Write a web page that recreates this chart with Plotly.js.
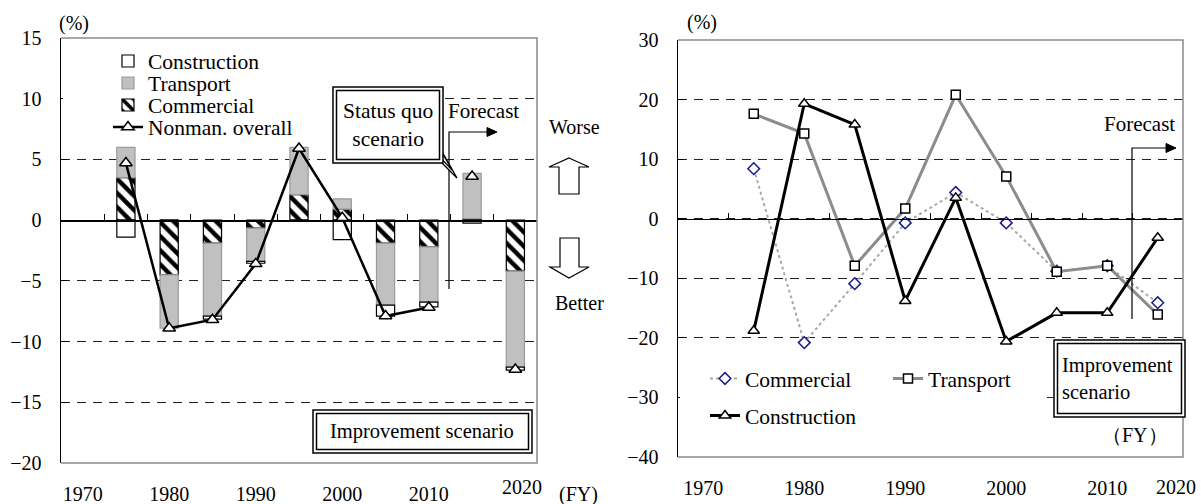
<!DOCTYPE html>
<html><head><meta charset="utf-8">
<script src="https://cdn.plot.ly/plotly-3.0.1.min.js"></script>
<style>body{margin:0;background:#fff}#chart{width:1201px;height:504px}</style>
</head><body><div id="chart"></div>
<script>
// ---------- Left chart data (status quo / improvement, contributions) ----------
const leftCategories = ['1970','1975','1980','1985','1990','1995','2000','2005','2010','2020 SQ','2020'];
const barYears = ['1975','1980','1985','1990','1995','2000','2005','2010','2020 SQ','2020'];
const commercialBars   = [3.5, -4.5, -1.9, -0.65, 2.1, 0.9, -1.9, -2.2, 0.1, -4.2];
const transportBars    = [2.5, -4.4, -6.0, -2.75, 3.9, 0.85, -5.1, -4.55, 3.75, -7.9];
const constructionBars = [-1.4, 0, -0.25, -0.15, -0.1, -1.6, -0.9, -0.4, -0.25, -0.25];
const overallYears  = ['1975','1980','1985','1990','1995','2000','2005','2010'];
const overallValues = [4.7, -8.9, -8.2, -3.6, 5.9, 0.2, -7.9, -7.2];
const forecastYears = ['2020 SQ','2020'];
const overallForecast = [3.6, -12.3];
const leftTickLabels = ['1970','1980','1990','2000','2010'];
const lastTickLabel = '2020';

// ---------- Right chart data ----------
const rightCategories = ['1970','1975','1980','1985','1990','1995','2000','2005','2010','2020'];
const rightYears = ['1975','1980','1985','1990','1995','2000','2005','2010','2020'];
const commercialR   = [8.4, -20.8, -10.9, -0.7, 4.4, -0.7, -8.8, -7.9, -14.1];
const transportR    = [17.6, 14.3, -7.9, 1.7, 20.8, 7.1, -8.9, -7.9, -16.1];
const constructionR = [-18.8, 19.3, 15.8, -13.8, 3.5, -20.6, -15.8, -15.8, -3.2];
const rightTickLabels = ['1970','1980','1990','2000','2010'];

// ---------- geometry helpers ----------
const W=1201,H=504,ML=61,MR=18,MT=38,MB=41;
const PW=W-ML-MR, PH=H-MT-MB;
const fx = x => (x-ML)/PW;
const fy = y => (H-MB-y)/PH;
const path = (pts, close) => 'M' + pts.map(p => fx(p[0]).toFixed(5)+','+fy(p[1]).toFixed(5)).join('L') + (close?'Z':'');
const FONT = 'Liberation Serif, serif';

const leftDomain = [0, fx(537)];
const rightDomain = [fx(678), 1];
const rightYDomain = [fy(457), fy(40)];
const leftRange = [-20, 15], rightRange = [-40, 30];
const zeroL = 0 + (0-leftRange[0])/(leftRange[1]-leftRange[0]);
const zeroR = rightYDomain[0] + (0-rightRange[0])/(rightRange[1]-rightRange[0])*(rightYDomain[1]-rightYDomain[0]);

const traces = [
  {type:'bar', name:'Commercial', x:barYears, y:commercialBars, xaxis:'x', yaxis:'y', width:0.42,
   legend:'legend5',
   marker:{color:'white', line:{color:'black', width:1.2},
           pattern:{shape:'\\', fgcolor:'black', bgcolor:'white', size:10, solidity:0.45}}},
  {type:'bar', name:'Transport', x:barYears, y:transportBars, xaxis:'x', yaxis:'y', width:0.42,
   legend:'legend4', marker:{color:'#c0c0c0', line:{color:'#9a9a9a', width:1.2}}},
  {type:'bar', name:'Construction', x:barYears, y:constructionBars, xaxis:'x', yaxis:'y', width:0.42,
   legend:'legend', marker:{color:'white', line:{color:'black', width:1.2}}},
  {type:'scatter', mode:'lines+markers', name:'Nonman. overall', x:overallYears, y:overallValues,
   xaxis:'x', yaxis:'y', legend:'legend6',
   line:{color:'black', width:2.5},
   marker:{symbol:'triangle-up', size:11, color:'white', line:{color:'black', width:1.5}}},
  {type:'scatter', mode:'markers', name:'Nonman. overall', x:forecastYears, y:overallForecast,
   xaxis:'x', yaxis:'y', showlegend:false,
   marker:{symbol:'triangle-up', size:11, color:'white', line:{color:'black', width:1.5}}},
  {type:'scatter', x:[], y:[], xaxis:'x3', yaxis:'y', showlegend:false, hoverinfo:'skip'},
  // right
  {type:'scatter', mode:'lines+markers', name:'Commercial', x:rightYears, y:commercialR,
   xaxis:'x2', yaxis:'y2', legend:'legend2',
   line:{color:'#a8a8a8', width:2, dash:'dot'},
   marker:{symbol:'diamond', size:9, color:'white', line:{color:'#1a1a8c', width:1.5}}},
  {type:'scatter', mode:'lines+markers', name:'Transport', x:rightYears, y:transportR,
   xaxis:'x2', yaxis:'y2', legend:'legend2',
   line:{color:'#8c8c8c', width:3},
   marker:{symbol:'square', size:9, color:'white', line:{color:'black', width:1.5}}},
  {type:'scatter', mode:'lines+markers', name:'Construction', x:rightYears, y:constructionR,
   xaxis:'x2', yaxis:'y2', legend:'legend3',
   line:{color:'black', width:3},
   marker:{symbol:'triangle-up', size:10, color:'white', line:{color:'black', width:1.5}}},
  {type:'scatter', x:[], y:[], xaxis:'x4', yaxis:'y2', showlegend:false, hoverinfo:'skip'}
];

const tickFont = {family:FONT, size:20, color:'black'};
const legFont = {family:FONT, size:21.5, color:'black'};
const leftLegend = (yc) => ({x:fx(108), y:fy(yc), xanchor:'left', yanchor:'middle', bgcolor:'rgba(0,0,0,0)',
                             borderwidth:0, font:legFont, itemwidth:30});
const layout = {
  width:W, height:H, margin:{l:ML, r:MR, t:MT, b:MB},
  paper_bgcolor:'white', plot_bgcolor:'white',
  font:{family:FONT, size:20, color:'black'},
  barmode:'relative', bargap:0.58,
  xaxis:{domain:leftDomain, type:'category', categoryorder:'array', categoryarray:leftCategories,
         range:[-0.5,10.5], tickmode:'array', tickvals:leftTickLabels, ticktext:leftTickLabels,
         ticks:'', showline:false, showgrid:false, zeroline:false, tickfont:tickFont, ticklabelstandoff:17},
  yaxis:{domain:[0,1], range:leftRange, dtick:5, tick0:0, ticks:'inside', ticklen:6, tickcolor:'black',
         showline:true, linecolor:'black', linewidth:1.5, showgrid:true, gridcolor:'#222', gridwidth:1,
         griddash:'9px,7px', zeroline:false, tickfont:tickFont, ticklabelstandoff:14, anchor:'x'},
  xaxis3:{overlaying:'x', anchor:'free', position:zeroL, domain:leftDomain, type:'linear',
          range:[-0.5,10.5], tickmode:'linear', tick0:-0.5, dtick:1, ticks:'inside', ticklen:6,
          tickcolor:'black', showline:true, linecolor:'black', linewidth:1.5,
          showticklabels:false, showgrid:false, zeroline:false},
  xaxis2:{domain:rightDomain, anchor:'y2', type:'category', categoryorder:'array', categoryarray:rightCategories,
          range:[-0.5,9.5], tickmode:'array', tickvals:rightTickLabels, ticktext:rightTickLabels,
          ticks:'', showline:false, showgrid:false, zeroline:false, tickfont:tickFont, ticklabelstandoff:17},
  yaxis2:{domain:rightYDomain, anchor:'x2', range:rightRange, dtick:10, tick0:0, ticks:'inside', ticklen:6,
          tickcolor:'black', showline:true, linecolor:'black', linewidth:1.5, showgrid:true,
          gridcolor:'#222', gridwidth:1, griddash:'9px,7px', zeroline:false, tickfont:tickFont,
          ticklabelstandoff:14},
  xaxis4:{overlaying:'x2', anchor:'free', position:zeroR, domain:rightDomain, type:'linear',
          range:[-0.5,9.5], tickmode:'linear', tick0:-0.5, dtick:1, ticks:'inside', ticklen:6,
          tickcolor:'black', showline:true, linecolor:'black', linewidth:1.5,
          showticklabels:false, showgrid:false, zeroline:false},
  legend:leftLegend(61),
  legend4:leftLegend(83),
  legend5:leftLegend(105),
  legend6:leftLegend(127),
  legend2:{orientation:'h', x:fx(705), y:fy(358), xanchor:'left', yanchor:'top', bgcolor:'rgba(0,0,0,0)',
           font:legFont, itemwidth:30, entrywidth:138},
  legend3:{orientation:'h', x:fx(705), y:fy(395), xanchor:'left', yanchor:'top', bgcolor:'rgba(0,0,0,0)',
           font:legFont, itemwidth:30},
  shapes:[],
  annotations:[]
};

const S = layout.shapes, A = layout.annotations;
const P = (obj) => Object.assign({type:'path', xref:'paper', yref:'paper', layer:'above'}, obj);
// frames (top, right, bottom), grey
S.push(P({line:{color:'#8a8a8a', width:1.5}, path:path([[61,38],[537,38],[537,463],[61,463]], false)}));
S.push(P({line:{color:'#8a8a8a', width:1.5}, path:path([[678,40],[1183,40],[1183,457],[678,457]], false)}));
// gridline covers behind legends
S.push({type:'rect', xref:'paper', yref:'paper', x0:fx(63), x1:fx(445), y0:fy(104), y1:fy(94), layer:'above',
        fillcolor:'white', line:{width:0}});
S.push({type:'rect', xref:'paper', yref:'paper', x0:fx(680), x1:fx(1047), y0:fy(402), y1:fy(392), layer:'above',
        fillcolor:'white', line:{width:0}});

// Worse / Better arrows
S.push(P({fillcolor:'white', line:{color:'black', width:1.2},
        path:path([[569,158],[589,167],[579,167],[579,194],[559,194],[559,167],[549,167]], true)}));
S.push(P({fillcolor:'white', line:{color:'black', width:1.2},
        path:path([[560,238],[579,238],[579,267],[589,267],[569,278],[550,267],[560,267]], true)}));
const ann = (o) => Object.assign({xref:'paper', yref:'paper', showarrow:false, xanchor:'center', yanchor:'middle',
                                  font:{size:20}}, o);
A.push(ann({x:fx(574), y:fy(127), text:'Worse'}));
A.push(ann({x:fx(579), y:fy(303), text:'Better'}));

// Forecast arrows
function forecastArrow(xv, ytop, ybot, xend){
  S.push(P({line:{color:'black', width:1.2}, path:path([[xv,ybot],[xv,ytop],[xend-9,ytop]], false)}));
  S.push(P({fillcolor:'black', line:{color:'black', width:1},
          path:path([[xend-10,ytop-4.5],[xend,ytop],[xend-10,ytop+4.5]], true)}));
}
forecastArrow(449, 132, 289, 497);
forecastArrow(1132, 148, 319, 1176);
A.push(ann({x:fx(483), y:fy(111), text:'Forecast', font:{size:21}}));
A.push(ann({x:fx(1139), y:fy(124), text:'Forecast', font:{size:21}}));

// double-bordered boxes
function dblBox(x0,y0,x1,y1){
  S.push({type:'rect', xref:'paper', yref:'paper', layer:'above', x0:fx(x0), x1:fx(x1), y0:fy(y1), y1:fy(y0),
          fillcolor:'white', line:{color:'black', width:1.5}});
  S.push({type:'rect', xref:'paper', yref:'paper', layer:'above', x0:fx(x0+3.5), x1:fx(x1-3.5), y0:fy(y1-3.5), y1:fy(y0+3.5),
          fillcolor:'white', line:{color:'black', width:1.5}});
}
// status quo callout tail (behind the box)
S.push(P({fillcolor:'white', line:{color:'black', width:1.3}, path:path([[436,141],[457,178],[432,153]], true)}));
S.push(P({fillcolor:'white', line:{color:'black', width:1.1}, path:path([[438,146],[452,170],[435,152]], true)}));
dblBox(333,87,443,163);
A.push(ann({x:fx(388), y:fy(125), text:'Status quo<br>scenario', font:{size:21.5}, align:'center'}));
dblBox(313,410,532,453);
A.push(ann({x:fx(422), y:fy(431), text:'Improvement scenario', font:{size:20.5}}));
dblBox(1054,340,1185,417);
A.push(ann({x:fx(1060), y:fy(378), xanchor:'left', text:'Improvement<br>scenario', align:'left', font:{size:20.5}}));

// units and extra labels
A.push(ann({x:fx(74), y:fy(24), text:'(%)'}));
A.push(ann({x:fx(702), y:fy(22), text:'(%)'}));
A.push(ann({x:fx(522), y:fy(487), text:lastTickLabel}));
A.push(ann({x:fx(578), y:fy(494), text:'(FY)'}));
A.push(ann({x:fx(1176), y:fy(487), text:lastTickLabel}));
A.push(ann({x:fx(1135), y:fy(435), text:'（FY）'}));

Plotly.newPlot('chart', traces, layout, {displayModeBar:false, staticPlot:true});
</script>
</body></html>
